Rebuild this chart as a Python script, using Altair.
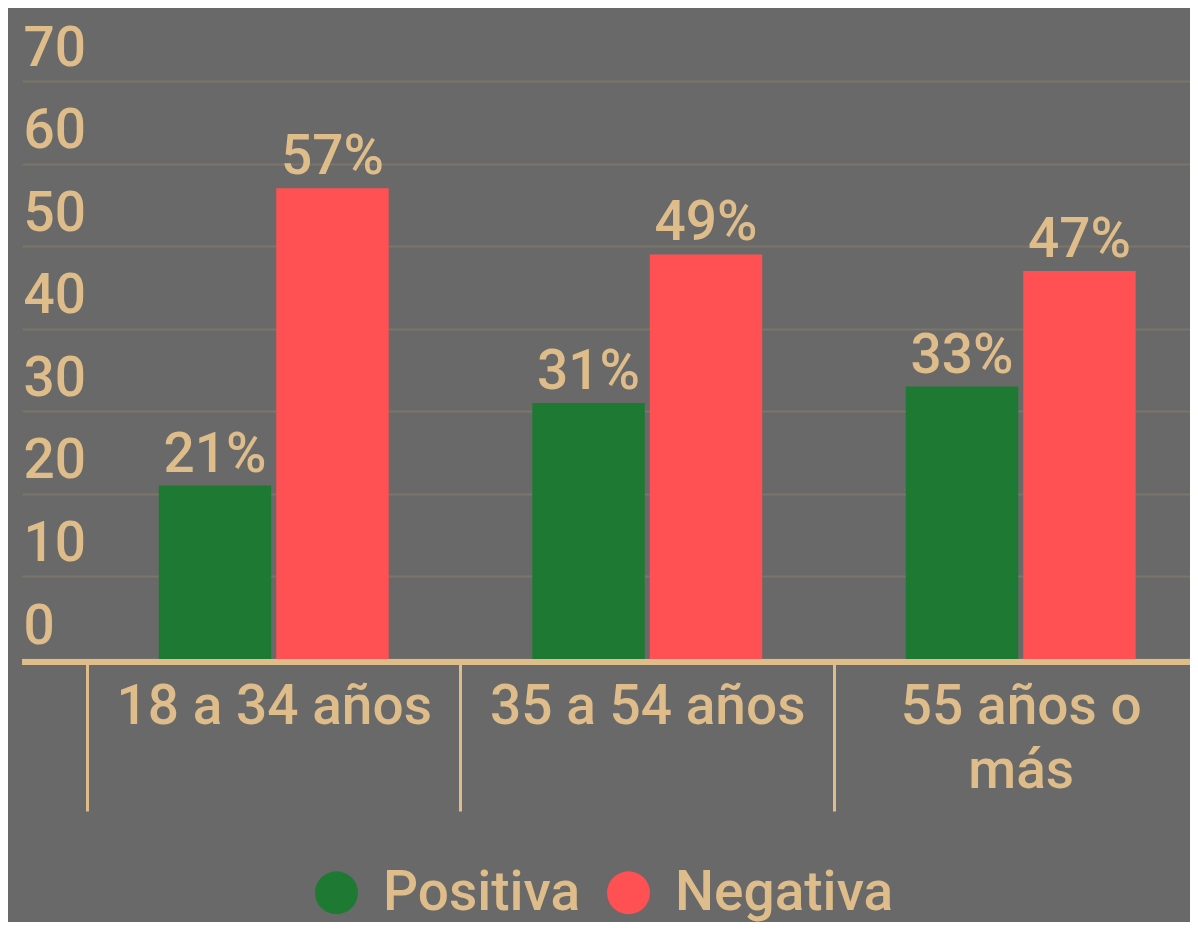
import altair as alt
import pandas as pd

# ---- data ----
categories = ["18 a 34 años", "35 a 54 años", "55 años o|más"]
series = ["Positiva", "Negativa"]
positiva = [21, 31, 33]
negativa = [57, 49, 47]
y_ticks = [0, 10, 20, 30, 40, 50, 60, 70]

rows = []
for c, p, n in zip(categories, positiva, negativa):
    rows.append({"grupo": c, "serie": series[0], "valor": p})
    rows.append({"grupo": c, "serie": series[1], "valor": n})
df = pd.DataFrame(rows)

# ---- style ----
BG = "#696969"
TAN = "#debd8a"
GREEN = "#1e7a32"
RED = "#ff5054"
GRID = "#7c7569"
FONT = "Roboto"
FW = 500
FS = 55

W = 1168
H = 578

x_enc = alt.X(
    "grupo:N",
    sort=categories,
    scale=alt.Scale(range=[0, 1185.5], paddingInner=0, paddingOuter=0.087, align=1),
    axis=alt.Axis(
        title=None,
        domain=False,
        grid=False,
        ticks=True,
        tickBand="extent",
        tickSize=152,
        tickWidth=3,
        tickColor=TAN,
        labelAngle=0,
        labelFont=FONT,
        labelFontWeight=FW,
        labelFontSize=FS,
        labelColor=TAN,
        labelBaseline="alphabetic",
        labelPadding=-88,
        labelLineHeight=64,
        labelLimit=0,
        labelOverlap=False,
        labelExpr="split(datum.label, '|')",
    ),
)
xo_enc = alt.XOffset(
    "serie:N", sort=series, scale=alt.Scale(paddingInner=0.0427, paddingOuter=0.611)
)
y_enc = alt.Y(
    "valor:Q",
    scale=alt.Scale(domain=[0, 70], nice=False),
    axis=alt.Axis(
        title=None,
        values=y_ticks,
        domain=False,
        ticks=False,
        tickSize=0,
        grid=True,
        gridColor=GRID,
        gridWidth=2,
        labelAlign="left",
        labelBaseline="alphabetic",
        labelOffset=-16,
        labelPadding=-1,
        labelFlush=False,
        labelOverlap=False,
        labelFont=FONT,
        labelFontWeight=FW,
        labelFontSize=FS,
        labelColor=TAN,
    ),
)

base = alt.Chart(df)

bars = base.mark_bar().encode(
    x=x_enc,
    xOffset=xo_enc,
    y=y_enc,
    color=alt.Color(
        "serie:N",
        sort=series,
        scale=alt.Scale(domain=series, range=[GREEN, RED]),
        legend=alt.Legend(
            title=None,
            orient="none",
            direction="horizontal",
            legendX=287,
            legendY=784,
            symbolType="circle",
            symbolSize=1849,
            symbolStrokeWidth=0,
            symbolOpacity=1,
            labelFont=FONT,
            labelFontWeight=FW,
            labelFontSize=FS,
            labelColor=TAN,
            labelOffset=19,
            columnPadding=20,
            padding=0,
            labelLimit=0,
        ),
    ),
)

labels = base.transform_calculate(
    etiqueta="datum.valor + '%'"
).mark_text(
    dy=-14, baseline="alphabetic", font=FONT, fontWeight=FW, fontSize=FS, color=TAN
).encode(x=x_enc, xOffset=xo_enc, y=y_enc, text="etiqueta:N")

domain_rule = alt.Chart(pd.DataFrame({"k": [0]})).mark_rule(
    color=TAN, strokeWidth=6
).encode(x=alt.value(0), x2=alt.value(W), y=alt.value(H + 3))

chart = (
    alt.layer(bars, labels, domain_rule)
    .properties(
        width=W,
        height=H,
        background=BG,
        padding={"left": 14, "top": 73, "right": 0, "bottom": 263},
        autosize=alt.AutoSizeParams(type="none"),
    )
    .configure_view(stroke=None)
)

chart.save("out.html", embed_options={"renderer": "svg", "actions": False})
